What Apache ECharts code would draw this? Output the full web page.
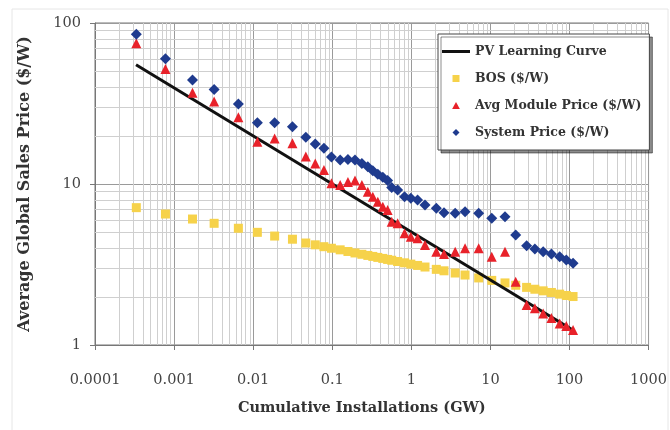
<!DOCTYPE html>
<html>
<head>
<meta charset="utf-8">
<script src="https://cdn.jsdelivr.net/npm/echarts@6/dist/echarts.min.js"></script>
<style>
  html, body { margin: 0; padding: 0; background: #fff; }
  #chart { width: 670px; height: 430px; }
</style>
</head>
<body>
<div id="chart"></div>
<script>
// ---- data ----
const xTickLabels = ['0.0001', '0.001', '0.01', '0.1', '1', '10', '100', '1000'];
const yTickLabels = ['1', '10', '100'];

// cumulative installations (GW)
const cumulativeGW = [
  0.000333, 0.000778, 0.00171, 0.00321, 0.0065, 0.0113, 0.0187, 0.0314,
  0.0463, 0.061, 0.0785, 0.0977, 0.126, 0.158, 0.194, 0.237, 0.282, 0.326,
  0.377, 0.436, 0.502, 0.565, 0.671, 0.822, 0.986, 1.20, 1.49, 2.07, 2.59,
  3.59, 4.78, 7.11, 10.4, 15.3, 20.9, 28.7, 36.5, 46.5, 59.1, 75.2, 91.2, 111
];
const systemPrice = [
  85.1, 60.0, 44.3, 38.7, 31.4, 24.0, 24.0, 22.7,
  19.5, 17.7, 16.7, 14.7, 14.1, 14.2, 14.1, 13.4, 12.8, 12.1,
  11.5, 11.0, 10.5, 9.5, 9.18, 8.34, 8.15, 7.96, 7.41, 7.06, 6.63,
  6.57, 6.73, 6.57, 6.12, 6.27, 4.82, 4.14, 3.95, 3.80, 3.67, 3.53, 3.37, 3.22
];
const modulePrice = [
  74.8, 51.8, 36.9, 32.5, 26.0, 18.3, 19.2, 17.9,
  14.8, 13.4, 12.2, 10.1, 9.86, 10.3, 10.5, 9.86, 8.96, 8.34,
  7.76, 7.23, 6.90, 5.83, 5.70, 4.94, 4.71, 4.60, 4.18, 3.80, 3.67,
  3.80, 3.99, 3.99, 3.53, 3.80, 2.47, 1.77, 1.69, 1.57, 1.47, 1.36, 1.31, 1.24
];
const bosPrice = [
  7.13, 6.51, 6.06, 5.70, 5.31, 5.01, 4.75, 4.54,
  4.30, 4.19, 4.08, 3.99, 3.90, 3.81, 3.73, 3.66, 3.60, 3.55,
  3.50, 3.45, 3.40, 3.36, 3.30, 3.24, 3.18, 3.12, 3.05, 2.95, 2.89,
  2.80, 2.72, 2.61, 2.52, 2.43, 2.35, 2.28, 2.22, 2.17, 2.12, 2.07, 2.03, 2.00
];
const learningGW = [0.00033, 110];
const learningPrice = [55, 1.24];

const seriesNames = ['PV Learning Curve', 'BOS ($/W)', 'Avg Module Price ($/W)', 'System Price ($/W)'];

// ---- helpers ----
function pairs(xs, ys) { return xs.map((x, i) => [x, ys[i]]); }
// minor grid positions (2..9 within each decade)
const xMinor = [];
for (let e = -4; e < 3; e++) for (let k = 2; k <= 9; k++) xMinor.push(+(k * Math.pow(10, e)).toPrecision(3));
const yMinor = [];
for (let e = 0; e < 2; e++) for (let k = 2; k <= 9; k++) yMinor.push(k * Math.pow(10, e));

const X_MIN = 0.0001, X_MAX = 1000, Y_MIN = 1, Y_MAX = 100;
const MINOR_COLOR = '#cfcfcf';

function crisp(v) { return Math.round(v) + 0.5; }
function renderVertical(params, api) {
  const v = api.value(0);
  const p1 = api.coord([v, Y_MIN]);
  const p2 = api.coord([v, Y_MAX]);
  const x = crisp(p1[0]);
  return { type: 'line', silent: true, shape: { x1: x, y1: p1[1], x2: x, y2: p2[1] },
           style: { stroke: MINOR_COLOR, lineWidth: 1 } };
}
function renderHorizontal(params, api) {
  const v = api.value(1);
  const p1 = api.coord([X_MIN, v]);
  const p2 = api.coord([X_MAX, v]);
  const y = crisp(p1[1]);
  return { type: 'line', silent: true, shape: { x1: p1[0], y1: y, x2: p2[0], y2: y },
           style: { stroke: MINOR_COLOR, lineWidth: 1 } };
}

const serifLabel = 'DejaVu Serif';
const chart = echarts.init(document.getElementById('chart'), null, { renderer: 'canvas' });

const option = {
  backgroundColor: '#fff',
  animation: false,
  graphic: [{
    type: 'rect', silent: true, z: -10,
    shape: { x: 12, y: 9, width: 656, height: 430 },
    style: { fill: 'none', stroke: '#e6e6e6', lineWidth: 1 }
  }],
  grid: {
    left: 95, right: 18, top: 23, bottom: 85,
    show: true, backgroundColor: '#fff', borderColor: '#777', borderWidth: 1
  },
  legend: {
    orient: 'vertical', left: 438, top: 34,
    itemWidth: 28, itemHeight: 7, itemGap: 12,
    symbolKeepAspect: true,
    backgroundColor: '#fff', borderColor: '#444', borderWidth: 1,
    padding: [10, 8, 10, 4],
    shadowColor: 'rgba(0,0,0,0.45)', shadowOffsetX: 3, shadowOffsetY: 3, shadowBlur: 0,
    textStyle: { fontFamily: serifLabel, fontWeight: 'bold', fontSize: 12.5, color: '#333', height: 15, lineHeight: 15 },
    data: [
      { name: seriesNames[0], icon: 'path://M0,0L28,0L28,3L0,3Z' },
      { name: seriesNames[1], icon: 'path://M0,0L10,0L10,10L0,10Z' },
      { name: seriesNames[2], icon: 'path://M5,0L10,9L0,9Z' },
      { name: seriesNames[3], icon: 'path://M5,0L10,5L5,10L0,5Z' }
    ]
  },
  xAxis: {
    type: 'log', logBase: 10, min: X_MIN, max: X_MAX,
    name: 'Cumulative Installations (GW)', nameLocation: 'middle', nameGap: 56,
    nameTextStyle: { fontFamily: serifLabel, fontWeight: 'bold', fontSize: 14.5, color: '#333', padding: [0, 20, 0, 0] },
    axisLine: { show: true, lineStyle: { color: '#777' } },
    axisTick: { show: true, length: 5, lineStyle: { color: '#777' } },
    axisLabel: {
      margin: 28, fontFamily: serifLabel, fontSize: 14.5, color: '#444',
      formatter: v => xTickLabels[Math.round(Math.log10(v)) + 4]
    },
    splitLine: { show: true, lineStyle: { color: '#9a9a9a', width: 1 } }
  },
  yAxis: {
    type: 'log', logBase: 10, min: Y_MIN, max: Y_MAX,
    name: 'Average Global Sales Price ($/W)', nameLocation: 'middle', nameGap: 62, nameRotate: 90,
    nameTextStyle: { fontFamily: serifLabel, fontWeight: 'bold', fontSize: 16, color: '#333' },
    axisLine: { show: true, lineStyle: { color: '#777' } },
    axisTick: { show: true, length: 5, lineStyle: { color: '#777' } },
    axisLabel: {
      margin: 14, fontFamily: serifLabel, fontSize: 14.5, color: '#444',
      formatter: v => yTickLabels[Math.round(Math.log10(v))]
    },
    splitLine: { show: true, lineStyle: { color: '#9a9a9a', width: 1 } }
  },
  series: [
    {
      name: 'minor-grid-x', type: 'custom', silent: true, z: 1,
      renderItem: renderVertical,
      data: xMinor.map(v => [v, Y_MIN])
    },
    {
      name: 'minor-grid-y', type: 'custom', silent: true, z: 1,
      renderItem: renderHorizontal,
      data: yMinor.map(v => [X_MIN, v])
    },
    {
      name: seriesNames[1], type: 'scatter', symbol: 'rect', symbolSize: 9, z: 3,
      itemStyle: { color: '#f6d24a', opacity: 1 },
      data: pairs(cumulativeGW, bosPrice)
    },
    {
      name: seriesNames[0], type: 'line', symbol: 'none', z: 4,
      lineStyle: { color: '#111', width: 3 },
      itemStyle: { color: '#111' },
      data: pairs(learningGW, learningPrice)
    },
    {
      name: seriesNames[2], type: 'scatter', symbol: 'triangle', symbolSize: 10, z: 5,
      itemStyle: { color: '#e8222a', opacity: 1 },
      data: pairs(cumulativeGW, modulePrice)
    },
    {
      name: seriesNames[3], type: 'scatter', symbol: 'diamond', symbolSize: 11, z: 6,
      itemStyle: { color: '#1f3b8e', opacity: 1 },
      data: pairs(cumulativeGW, systemPrice)
    }
  ]
};
chart.setOption(option);
</script>
</body>
</html>
